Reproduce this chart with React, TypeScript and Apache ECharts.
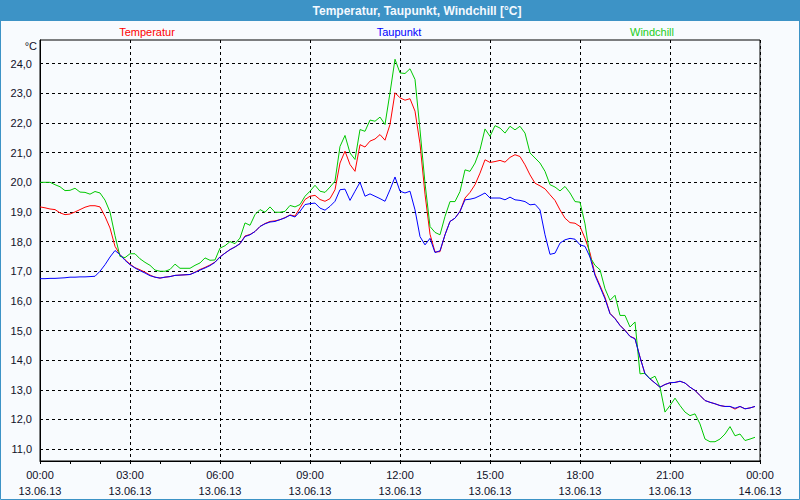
import React, { useEffect, useRef } from "react";
import * as echarts from "echarts";

// 10-minute samples, 13.06.13 00:00 .. 23:50 (6 values per hour)
const temperatur: number[] = [
  19.17, 19.14, 19.10, 19.08, 18.97, 18.91,
  18.93, 19.00, 19.08, 19.16, 19.21, 19.21,
  19.17, 18.85, 18.46, 17.84, 17.56, 17.39,
  17.24, 17.12, 17.05, 16.97, 16.87, 16.80,
  16.77, 16.80, 16.82, 16.86, 16.87, 16.88,
  16.89, 16.97, 17.06, 17.13, 17.21, 17.31,
  17.49, 17.61, 17.73, 17.82, 17.93, 18.19,
  18.24, 18.34, 18.51, 18.61, 18.68, 18.70,
  18.74, 18.81, 18.90, 18.86, 19.14, 19.42,
  19.53, 19.56, 19.42, 19.36, 19.45, 19.75,
  20.65, 21.05, 20.60, 20.37, 21.27, 21.19,
  21.39, 21.46, 21.61, 21.42, 21.95, 23.02,
  22.85, 22.77, 22.82, 22.40, 21.30, 19.60,
  18.25, 17.65, 17.66, 18.23, 18.68, 18.79,
  19.02, 19.47, 19.66, 19.92, 20.31, 20.76,
  20.67, 20.70, 20.74, 20.68, 20.84, 20.93,
  20.87, 20.59, 20.25, 19.97, 19.88, 19.78,
  19.58, 19.39, 19.07, 18.79, 18.64, 18.62,
  18.51, 18.11, 17.62, 16.90, 16.52, 16.12,
  15.58, 15.41, 15.18, 15.01, 14.81, 14.73,
  14.10, 13.54, 13.37, 13.23, 13.09, 13.18,
  13.24, 13.25, 13.29, 13.23, 13.09, 12.98,
  12.81, 12.64, 12.58, 12.53, 12.47, 12.44,
  12.44, 12.35, 12.44, 12.36, 12.39, 12.44,
];

const taupunkt: number[] = [
  16.75, 16.75, 16.76, 16.76, 16.77, 16.78,
  16.80, 16.80, 16.81, 16.81, 16.82, 16.83,
  17.00, 17.22, 17.48, 17.70, 17.56, 17.37,
  17.22, 17.11, 17.02, 16.94, 16.85, 16.80,
  16.77, 16.80, 16.82, 16.86, 16.87, 16.88,
  16.89, 16.96, 17.04, 17.11, 17.19, 17.30,
  17.48, 17.61, 17.73, 17.82, 17.93, 18.17,
  18.23, 18.34, 18.51, 18.60, 18.66, 18.68,
  18.74, 18.80, 18.89, 18.83, 19.02, 19.25,
  19.28, 19.30, 19.13, 19.06, 19.19, 19.36,
  19.75, 19.77, 19.39, 19.70, 20.00, 19.53,
  19.61, 19.53, 19.45, 19.36, 19.75, 20.18,
  19.70, 19.64, 19.70, 19.07, 18.17, 17.89,
  18.11, 17.63, 17.69, 18.23, 18.68, 18.79,
  19.02, 19.41, 19.43, 19.47, 19.55, 19.64,
  19.47, 19.47, 19.47, 19.41, 19.50, 19.41,
  19.39, 19.35, 19.24, 19.26, 19.07, 18.23,
  17.57, 17.61, 17.95, 18.06, 18.11, 18.08,
  17.89, 17.84, 17.48, 16.86, 16.47, 16.07,
  15.57, 15.40, 15.17, 15.00, 14.80, 14.72,
  14.10, 13.54, 13.37, 13.23, 13.09, 13.18,
  13.24, 13.25, 13.29, 13.23, 13.09, 12.98,
  12.81, 12.64, 12.58, 12.53, 12.47, 12.44,
  12.44, 12.38, 12.44, 12.36, 12.39, 12.44,
];

const windchill: number[] = [
  20.00, 20.00, 20.00, 19.92, 19.85, 19.72,
  19.73, 19.80, 19.67, 19.66, 19.60, 19.69,
  19.64, 19.40, 19.00, 18.20, 17.50, 17.46,
  17.59, 17.59, 17.42, 17.30, 17.20, 17.04,
  17.00, 17.00, 17.06, 17.24, 17.10, 17.10,
  17.10, 17.20, 17.28, 17.45, 17.37, 17.38,
  17.78, 17.86, 18.00, 17.93, 18.12, 18.63,
  18.55, 18.91, 19.08, 18.99, 19.17, 18.99,
  18.99, 19.02, 19.22, 19.17, 19.25, 19.53,
  19.70, 19.90, 19.70, 19.66, 19.84, 20.04,
  21.21, 21.58, 20.99, 20.77, 21.78, 21.72,
  22.10, 22.06, 22.20, 21.95, 23.02, 24.15,
  23.69, 23.67, 23.83, 23.47, 21.77, 19.97,
  18.51, 18.31, 18.23, 18.85, 19.35, 19.35,
  19.69, 20.42, 20.37, 20.65, 21.10, 21.80,
  21.55, 21.91, 21.83, 21.66, 21.89, 21.77,
  21.89, 21.66, 20.99, 20.82, 20.65, 20.37,
  19.92, 19.84, 19.71, 19.86, 19.64, 19.35,
  19.33, 18.60, 17.48, 17.20, 17.05, 16.41,
  16.02, 16.19, 15.51, 15.51, 15.12, 15.29,
  13.54, 13.56, 13.37, 13.46, 13.09, 12.25,
  12.47, 12.72, 12.47, 12.25, 12.13, 12.19,
  11.85, 11.34, 11.25, 11.25, 11.34, 11.51,
  11.76, 11.45, 11.51, 11.29, 11.34, 11.40,
];

const stepMinutes = 10;
const xTickTimes = ["00:00", "03:00", "06:00", "09:00", "12:00", "15:00", "18:00", "21:00", "00:00"];
const xTickDates = ["13.06.13", "13.06.13", "13.06.13", "13.06.13", "13.06.13", "13.06.13", "13.06.13", "13.06.13", "14.06.13"];
const yTickValues = [11, 12, 13, 14, 15, 16, 17, 18, 19, 20, 21, 22, 23, 24];

const seriesNames = ["Temperatur", "Taupunkt", "Windchill"];
const seriesColors = ["#ff0000", "#0000ff", "#00c800"];
const legendColors = ["#ff0000", "#0000ff", "#22cc22"];

const FONT = "Liberation Sans";

function toPairs(values: number[]) {
  return values.map((v, i) => [i * stepMinutes, v]);
}

export default function App() {
  const ref = useRef<HTMLDivElement>(null);

  useEffect(() => {
    document.body.style.margin = "0";
    if (!ref.current) return;
    const chart = echarts.init(ref.current, null, { renderer: "svg" });
    const border = "#3d93c6";
    const option: any = {
      animation: false,
      backgroundColor: "#f8fbfe",
      grid: {
        left: 40,
        right: 40,
        top: 40,
        bottom: 39,
        show: true,
        borderColor: "#000",
        borderWidth: 1,
        containLabel: false,
        outerBoundsMode: "none",
      },
      xAxis: {
        type: "value",
        min: 0,
        max: 1440,
        interval: 180,
        axisLine: { show: true, lineStyle: { color: "#000", width: 1 } },
        axisTick: { show: true, length: 3, lineStyle: { color: "#000" } },
        minorTick: { show: true, splitNumber: 3, length: 3, lineStyle: { color: "#000" } },
        splitLine: { show: true, lineStyle: { color: "#000", type: [3, 3], width: 1 } },
        axisLabel: {
          margin: 6,
          color: "#101028",
          fontFamily: FONT,
          fontSize: 11,
          lineHeight: 16,
          showMinLabel: true,
          showMaxLabel: true,
          formatter: (v: number) => {
            const i = Math.round(v / 180);
            return xTickTimes[i] + "\n" + xTickDates[i];
          },
        },
      },
      yAxis: {
        type: "value",
        min: 10.6,
        max: 24.8,
        axisLine: { show: true, lineStyle: { color: "#000", width: 1 } },
        axisTick: { show: false, customValues: yTickValues },
        splitLine: { show: true, lineStyle: { color: "#000", type: [3, 3], width: 1 } },
        axisLabel: {
          customValues: yTickValues,
          margin: 8,
          color: "#101028",
          fontFamily: FONT,
          fontSize: 11,
          formatter: (v: number) => v.toFixed(1).replace(".", ","),
        },
      },
      series: [
        {
          name: seriesNames[0],
          type: "line",
          data: toPairs(temperatur),
          showSymbol: false,
          lineStyle: { color: seriesColors[0], width: 1 },
          itemStyle: { color: seriesColors[0] },
          z: 2,
        },
        {
          name: seriesNames[2],
          type: "line",
          data: toPairs(windchill),
          showSymbol: false,
          lineStyle: { color: seriesColors[2], width: 1 },
          itemStyle: { color: seriesColors[2] },
          z: 3,
        },
        {
          name: seriesNames[1],
          type: "line",
          data: toPairs(taupunkt),
          showSymbol: false,
          lineStyle: { color: seriesColors[1], width: 1 },
          itemStyle: { color: seriesColors[1] },
          z: 4,
        },
      ],
      graphic: [
        {
          type: "rect",
          shape: { x: 0, y: 0, width: 800, height: 21 },
          style: { fill: border },
          silent: true,
        },
        {
          type: "rect",
          shape: { x: 0.5, y: 0.5, width: 799, height: 499 },
          style: { fill: "none", stroke: border, lineWidth: 1 },
          silent: true,
        },
        {
          type: "text",
          x: 417,
          y: 11,
          style: {
            text: "Temperatur, Taupunkt, Windchill [°C]",
            fill: "#f4f9ff",
            font: `bold 12px "${FONT}"`,
            align: "center",
            verticalAlign: "middle",
          },
        },
        {
          type: "text",
          x: 147,
          y: 32,
          style: { text: seriesNames[0], fill: legendColors[0], font: `11px "${FONT}"`, align: "center", verticalAlign: "middle" },
        },
        {
          type: "text",
          x: 399,
          y: 32,
          style: { text: seriesNames[1], fill: legendColors[1], font: `11px "${FONT}"`, align: "center", verticalAlign: "middle" },
        },
        {
          type: "text",
          x: 652,
          y: 32,
          style: { text: seriesNames[2], fill: legendColors[2], font: `11px "${FONT}"`, align: "center", verticalAlign: "middle" },
        },
        {
          type: "text",
          x: 37,
          y: 46,
          style: { text: "°C", fill: "#101028", font: `11px "${FONT}"`, align: "right", verticalAlign: "middle" },
        },
      ],
    };
    chart.setOption(option);
    return () => chart.dispose();
  }, []);

  return (
    <div
      ref={ref}
      style={{ position: "fixed", left: 0, top: 0, width: 800, height: 500 }}
    />
  );
}
